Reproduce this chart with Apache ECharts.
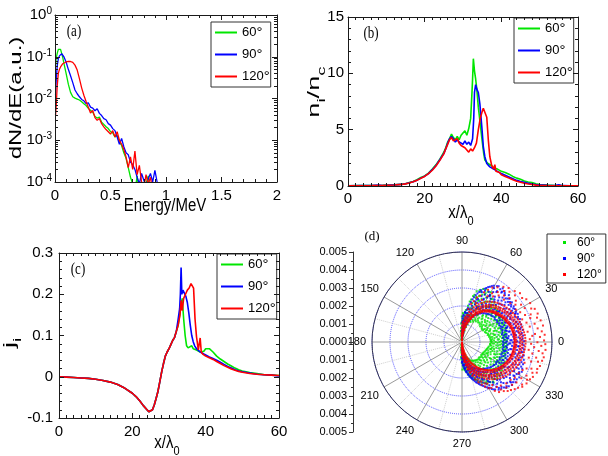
<!DOCTYPE html>
<html><head><meta charset="utf-8">
<script src="https://cdn.jsdelivr.net/npm/echarts@6/dist/echarts.min.js"></script>
<style>html,body{margin:0;padding:0;background:#fff}#c{width:608px;height:456px}</style>
</head><body><div id="c"></div>
<script>
// ---------- data ----------
const seriesNames = ['60°', '90°', '120°'];
// (a) energy spectra
const energyA = [0.005,0.01,0.02,0.03,0.04,0.05,0.06,0.07,0.08,
 0.10,0.12,0.14,0.16,0.18,0.20,0.22,0.24,0.26,0.28,0.30,0.32,0.34,0.36,0.38,0.40,
 0.42,0.44,0.46,0.48,0.50,0.52,0.54,0.56,0.58,0.60,0.62,0.64,0.66,0.68,0.70,
 0.72,0.74,0.76,0.78,0.80,0.82,0.84,0.86,0.88,0.90,0.92,0.94];
const greenA = [0.06,0.09,0.12,0.15,0.16,0.15,0.12,0.095,0.07,
 0.04,0.022,0.014,0.011,0.0102,0.0097,0.0092,0.0084,0.0075,0.0068,0.0058,0.0052,0.0047,0.0037,0.0034,0.0036,
 0.0027,0.0024,0.0021,0.0019,0.0016,0.0015,0.0012,0.0013,0.0009,0.00075,0.0005,0.00037,0.00022,0.00013,0.00009,
 0.00006,0.00014,0.00005,0.00004,0.00006,0.00009,0.00014,0.00006,0.00003,0.00003,0.00003,0.00003];
const blueA = [0.012,0.025,0.06,0.09,0.105,0.115,0.118,0.112,0.1,
 0.075,0.05,0.035,0.024,0.016,0.013,0.011,0.0095,0.0088,0.0075,0.0079,0.0062,0.0059,0.0051,0.0057,0.0044,
 0.0039,0.0033,0.0031,0.0025,0.0023,0.0019,0.0017,0.0012,0.0008,0.0011,0.0007,0.0005,0.00045,0.0003,0.00026,
 0.0002,0.00013,0.00009,0.00016,0.00011,0.00008,0.00012,0.00016,0.0001,0.00019,0.0001,0.00004];
const redA = [0.004,0.006,0.02,0.04,0.05,0.057,0.063,0.068,0.072,
 0.075,0.077,0.077,0.073,0.063,0.048,0.03,0.018,0.012,0.0085,0.0062,0.0045,0.0052,0.0035,0.003,0.0033,
 0.0025,0.0021,0.0018,0.0016,0.0014,0.0017,0.0012,0.0016,0.001,0.0008,0.0006,0.0004,0.00022,0.0004,0.0002,
 0.00055,0.00015,0.00025,0.0001,0.00007,0.00015,0.00009,0.00013,0.00006,0.00003,0.00003,0.00003];

// (b) density n_i/n_c vs x/lambda0, [x, y]
const greenB = [[0,0.02],[3,0.03],[6,0.04],[9,0.06],[12,0.1],[14,0.16],[15,0.2],[16,0.3],[17,0.4],[18,0.55],[19,0.75],[20,0.9],[21,1.15],[22,1.5],[23,1.9],[24,2.4],[25,3.0],[25.5,3.4],[26,3.9],[26.5,4.2],[27,4.6],[27.5,4.3],[28,4.1],[28.5,4.4],[29,4.1],[29.5,4.5],[30,4.6],[30.5,4.9],[31,4.5],[31.5,5.1],[32,6.0],[32.3,8.0],[32.5,9.5],[32.7,11.3],[33,10.2],[33.3,9.5],[33.6,8.6],[34,7.0],[34.5,5.5],[35,4.0],[35.4,2.9],[35.7,2.3],[36,2.4],[36.5,2.0],[37,2.0],[37.5,1.8],[38,1.6],[38.5,1.6],[39,1.5],[39.5,1.5],[40,1.3],[41,1.2],[42,1.05],[43,0.85],[44,0.7],[45,0.6],[46,0.45],[47,0.35],[48,0.3],[49,0.2],[50,0.12],[52,0.08],[54,0.05],[56,0.03],[58,0.02],[60,0.01]];
const blueB = [[0,0.02],[3,0.03],[6,0.03],[8,0.08],[9,0.05],[12,0.1],[14,0.14],[15,0.2],[16,0.28],[17,0.38],[18,0.52],[19,0.7],[20,0.88],[21,1.1],[22,1.45],[23,1.85],[24,2.35],[25,2.9],[25.5,3.3],[26,3.8],[26.5,4.2],[27,4.4],[27.5,4.2],[28,3.9],[28.5,4.1],[29,3.9],[29.5,4.0],[30,3.7],[30.5,4.0],[31,3.7],[31.5,3.9],[32,3.6],[32.5,4.2],[32.8,6.0],[33,8.3],[33.3,9.0],[33.6,8.6],[34,8.3],[34.4,7.3],[34.9,5.3],[35.3,3.5],[35.7,2.6],[36.2,2.0],[36.6,1.9],[37,1.7],[37.5,1.6],[38,1.5],[38.5,1.4],[39,1.3],[40,1.1],[41,0.95],[42,0.8],[43,0.65],[44,0.5],[45,0.4],[46,0.32],[47,0.25],[48,0.18],[49,0.12],[50,0.1],[52,0.07],[54,0.05],[55,0.1],[56,0.03],[58,0.02],[60,0.01]];
const redB = [[0,0.02],[3,0.02],[6,0.03],[9,0.05],[12,0.09],[14,0.14],[15,0.19],[16,0.27],[17,0.37],[18,0.5],[19,0.68],[20,0.85],[21,1.1],[22,1.4],[23,1.8],[24,2.3],[25,2.85],[25.5,3.3],[26,3.7],[26.5,4.1],[27,4.3],[27.5,4.0],[28,3.9],[28.5,4.2],[29,3.8],[29.5,3.6],[30,3.7],[30.5,3.4],[31,3.3],[31.5,3.0],[32,3.3],[32.5,3.1],[33,3.4],[33.5,3.8],[34,5.0],[34.5,6.0],[35,6.6],[35.3,6.9],[35.7,6.8],[36.2,6.1],[36.6,4.1],[37,2.6],[37.5,1.8],[38,1.5],[38.3,1.9],[38.6,1.3],[39,1.3],[39.5,1.2],[40,1.0],[41,0.85],[42,0.7],[43,0.55],[44,0.42],[45,0.33],[46,0.25],[47,0.18],[48,0.13],[49,0.08],[50,0.05],[52,0.03],[54,0.02],[56,0.02],[58,0.01],[60,0.01]];

// (c) current j_i vs x/lambda0, [x, y]
const baseC = [[0,0.0],[2,-0.001],[4,-0.002],[6,-0.003],[8,-0.004],[10,-0.006],[12,-0.009],[14,-0.013],[16,-0.019],[18,-0.028],[20,-0.04],[21,-0.048],[22,-0.058],[23,-0.07],[24,-0.08],[24.5,-0.085],[25,-0.088],[25.5,-0.08],[26,-0.068],[26.5,-0.052],[27,-0.035],[27.5,-0.012],[28,0.012],[28.5,0.032],[29,0.05],[29.5,0.06],[30,0.068],[30.5,0.078],[31,0.088],[31.5,0.095],[32,0.11]];
const greenTailC = [[32.5,0.125],[33,0.155],[33.3,0.175],[33.6,0.19],[34,0.14],[34.4,0.1],[34.8,0.075],[35.2,0.07],[35.7,0.066],[36.2,0.075],[36.6,0.068],[37,0.07],[37.5,0.065],[38,0.062],[38.5,0.06],[39,0.058],[39.5,0.062],[40,0.068],[40.5,0.072],[41,0.068],[42,0.06],[43,0.05],[44,0.043],[45,0.037],[46,0.031],[47,0.026],[48,0.021],[49,0.017],[50,0.014],[52,0.01],[54,0.008],[56,0.005],[58,0.004],[60,0.003]];
const blueTailC = [[32.5,0.14],[32.9,0.165],[33.1,0.2],[33.3,0.265],[33.5,0.2],[33.8,0.21],[34.2,0.208],[34.6,0.195],[35,0.18],[35.4,0.155],[35.8,0.125],[36.2,0.1],[36.6,0.085],[37,0.075],[37.5,0.068],[38,0.065],[38.5,0.06],[39,0.057],[39.5,0.055],[40,0.052],[41,0.048],[42,0.044],[43,0.04],[44,0.035],[45,0.03],[46,0.025],[47,0.021],[48,0.017],[49,0.014],[50,0.012],[52,0.009],[54,0.006],[56,0.005],[58,0.004],[60,0.002]];
const redTailC = [[32.5,0.125],[33,0.15],[33.3,0.185],[33.6,0.16],[34,0.19],[34.5,0.2],[35,0.21],[35.5,0.215],[36,0.226],[36.3,0.23],[36.7,0.215],[37.1,0.14],[37.5,0.097],[38,0.065],[38.5,0.094],[38.8,0.06],[39.2,0.055],[39.6,0.058],[40,0.05],[41,0.046],[42,0.042],[43,0.037],[44,0.032],[45,0.027],[46,0.023],[47,0.019],[48,0.016],[49,0.013],[50,0.011],[52,0.008],[54,0.006],[56,0.005],[58,0.004],[60,0.003]];

// (d) angular distribution: rows [angle(deg), r1, r2, ...] with r in units of 0.001
const R_UNIT = 0.001;
const polarGreen = [
 [97.1,0.13,0.36],[95.4,0.22,0.61],[93.6,0.18,0.47,0.79],[92.2,0.38,0.55,1.04],
 [90.5,0.27,0.33,0.81,1.42],[89.3,0.12,0.64,0.72,1.19],[88.1,0.45,0.98,1.07,1.61],[86.9,0.21,0.29,1.28,1.53],
 [85.6,0.57,0.66,0.91,1.36],[84.4,0.16,0.84,1.47,1.68],[83.1,0.39,1.14,1.22,1.79],[81.8,0.71,0.78,1.58],
 [80.6,0.49,1.31,1.86,2.04],[79.2,0.93,1.01,1.63,2.29],[77.9,0.64,1.48,1.57,2.41],[76.5,1.19,1.84,1.93,2.62],
 [75.2,0.86,1.27,2.24,2.71],[73.8,1.42,1.51,2.08,2.93],[72.4,1.03,1.96,2.55,2.63],[71.1,1.58,2.21,2.34,3.06],
 [69.7,1.24,1.33,2.72,2.98],[68.3,1.87,2.46,2.51,3.17],[67.0,1.21,1.63,2.18,2.86],[65.6,2.03,2.09,2.64,3.22],
 [64.2,1.36,1.78,2.93,3.01],[62.9,1.52,2.37,2.45,3.14],[61.5,1.29,2.12,2.81],[60.1,1.71,1.76,2.58,3.19],
 [58.8,1.44,2.27,2.97,3.04],[57.4,1.92,2.04,2.66],[56.0,1.38,1.57,2.43,2.88],[54.7,1.66,2.31,2.39,2.92],
 [53.3,1.49,2.16,2.74],[51.9,1.82,1.89,2.53,2.61],[50.6,1.41,2.28,2.83],[49.2,1.67,1.74,2.47,2.52],
 [47.8,1.46,2.03,2.36,2.77],[46.5,1.94,2.14,2.63],[45.1,1.39,1.58,2.42,2.69],[43.7,1.76,2.26,2.33],
 [42.4,1.47,1.97,2.58,2.62],[41.0,1.33,1.69,2.19],[39.6,1.83,2.41,2.52],[38.3,1.42,1.53,2.07,2.66],
 [36.9,1.71,2.29,2.36],[35.5,1.35,1.88,2.49,2.54],[34.2,1.57,1.64,2.13],[32.8,1.31,2.21,2.43,2.58],
 [31.4,1.78,1.86,2.47],[30.1,1.43,2.02,2.31,2.39],[28.7,1.34,1.62,2.56],[27.3,1.91,2.17,2.24],
 [26.0,1.48,1.55,2.38,2.61],[24.6,1.73,2.09,2.51],[23.2,1.39,1.97,2.28,2.44],[21.9,1.61,1.68,2.53],
 [20.5,1.44,2.14,2.22,2.59],[19.1,1.86,1.94,2.37],[17.8,1.52,2.03,2.48,2.55],[16.4,1.67,2.27,2.33],
 [15.0,1.49,1.79,2.11,2.52],[13.7,1.58,2.19,2.46],[12.3,1.83,1.89,2.31,2.42],[10.9,1.53,2.07,2.5],
 [9.6,1.62,1.71,2.26,2.37],[8.2,1.94,2.14,2.48],[6.8,1.57,1.82,2.39,2.44],[5.5,1.69,2.23,2.31],
 [4.1,1.61,1.99,2.06,2.52],[2.7,1.78,2.34,2.41],[1.4,1.59,1.66,2.17,2.49],[0.0,1.87,2.08,2.29],
 [-1.4,1.63,1.97,2.38,2.45],[-2.7,1.71,1.79,2.21],[-4.1,1.56,2.12,2.33,2.51],[-5.5,1.91,2.02,2.44],
 [-6.8,1.58,1.64,2.26,2.37],[-8.2,1.77,2.17,2.49],[-9.6,1.51,1.93,2.08,2.42],[-10.9,1.69,2.31,2.36],
 [-12.3,1.48,1.82,2.14,2.55],[-13.7,1.61,1.67,2.27],[-15.0,1.44,2.03,2.41,2.48],[-16.4,1.76,1.88,2.33],
 [-17.8,1.41,1.53,2.19,2.51],[-19.1,1.68,2.07,2.44],[-20.5,1.39,1.91,1.98,2.57],[-21.9,1.57,2.24,2.36],
 [-23.2,1.36,1.73,2.12,2.49],[-24.6,1.49,1.55,2.31,2.62],[-26.0,1.33,1.96,2.04,2.43],[-27.3,1.62,2.18,2.56],
 [-28.7,1.31,1.44,2.27,2.34],[-30.1,1.79,1.86,2.49,2.61],[-31.4,1.34,2.09,2.22],[-32.8,1.52,1.61,2.41,2.67],
 [-34.2,1.29,1.93,2.58],[-35.5,1.71,2.14,2.21,2.73],[-36.9,1.37,1.46,2.36,2.64],[-38.3,1.84,2.03,2.78],
 [-39.6,1.32,1.58,2.47,2.52],[-41.0,1.66,1.73,2.29,2.81],[-42.4,1.28,2.16,2.63,2.69],[-43.7,1.49,1.92,2.41],
 [-45.1,1.36,1.43,2.24,2.76],[-46.5,1.77,2.57,2.84],[-47.8,1.31,1.62,2.08,2.13],[-49.2,1.54,2.38,2.72],
 [-50.6,1.29,1.87,1.94,2.61],[-51.9,1.43,2.21,2.79,2.86],[-53.3,1.27,1.69,2.47],[-54.7,1.58,2.03,2.11,2.74],
 [-56.0,1.24,1.36,2.32,2.67],[-57.4,1.73,1.81,2.54],[-58.8,1.22,2.12,2.61,2.71],[-60.1,1.46,1.52,2.27],
 [-61.5,1.19,1.89,2.43,2.58],[-62.9,1.38,2.06,2.13],[-64.2,1.14,1.62,2.36,2.51],[-65.6,1.27,1.33,1.98],
 [-67.0,1.07,1.79,2.21,2.44],[-68.3,1.21,1.54,1.61,2.33],[-69.7,0.98,1.86,2.24],[-71.1,1.12,1.37,1.44,2.11],
 [-72.4,0.89,1.66,1.99,2.19],[-73.8,1.02,1.23,1.29,1.93],[-75.2,0.76,1.51,1.84,2.06],[-76.5,0.93,1.09,1.71],
 [-77.9,0.67,1.35,1.42,1.94],[-79.2,0.81,0.96,1.58,1.83],[-80.6,0.52,1.17,1.26,1.72],[-81.8,0.71,0.83,1.49],
 [-83.1,0.41,1.02,1.09,1.63],[-84.4,0.58,0.67,1.34,1.56],[-85.6,0.29,0.88,0.94,1.48],[-86.9,0.47,0.53,1.21,1.41],
 [-88.1,0.19,0.74,0.79,1.31],[-89.3,0.36,0.42,1.06,1.53],[-90.5,0.24,0.61,0.67,1.17],[-92.2,0.31,0.49,0.96],
 [-93.6,0.17,0.58,0.83],[-95.4,0.21,0.44],[-97.1,0.14,0.32]];
const polarBlue = [
 [91.8,0.27,0.63],[90.5,0.44,0.51,1.09],[89.2,0.21,0.86,1.31],[87.9,0.58,0.69,1.17,1.42],[86.6,0.33,1.03,1.51],
 [85.3,0.74,0.81,1.26],[84.0,0.41,1.19,1.62,1.68],[82.7,0.92,1.04,1.44],[81.4,0.57,1.37,1.81],[80.1,1.12,1.21,1.64,1.92],
 [78.8,0.81,1.52,2.13],[77.5,1.34,1.41,1.86,2.27],[76.2,0.98,1.73,2.44],[74.9,1.49,1.58,2.09,2.58],[73.6,1.16,1.94,2.71],
 [72.3,1.68,1.77,2.36,2.83],[71.0,1.31,2.21,2.49,2.94],[69.7,1.88,2.56,3.07],[68.4,1.46,1.53,2.34,2.98],[67.1,2.02,2.11,2.77,3.21],
 [65.8,1.59,2.46,3.12,3.29],[64.5,1.81,2.19,2.92,3.38],[63.2,1.69,2.63,2.69,3.44],[61.9,2.06,2.37,3.16,3.52],
 [60.6,1.77,2.28,2.84,3.59],[59.3,2.22,2.97,3.04,3.48],[58.0,1.86,2.51,3.27,3.66],[56.7,2.14,2.38,2.89,3.71],
 [55.4,1.94,2.74,3.37,3.43],[54.1,2.31,2.59,3.11,3.62],[52.8,2.01,2.47,2.96,3.74],[51.5,2.43,2.87,3.51,3.57],
 [50.2,2.07,2.68,3.23,3.69],[48.9,2.26,2.33,3.06,3.61],[47.6,2.11,2.79,3.34,3.53],[46.3,2.49,2.94,3.18],
 [45.0,2.16,2.58,3.42,3.68],[43.7,2.36,2.43,3.02,3.49],[42.4,2.19,2.83,3.27,3.56],[41.1,2.58,3.13,3.39],
 [39.8,2.23,2.66,2.71,3.47],[38.5,2.41,2.97,3.31,3.54],[37.2,2.26,2.51,3.08,3.43],[35.9,2.69,2.76,3.36],
 [34.6,2.22,2.88,3.21,3.49],[33.3,2.47,2.55,3.03,3.41],[32.0,2.29,2.79,3.28,3.46],[30.7,2.63,3.09,3.16],
 [29.4,2.24,2.43,2.91,3.44],[28.1,2.54,2.82,3.33,3.38],[26.8,2.31,2.71,3.02,3.47],[25.5,2.46,2.96,3.26],
 [24.2,2.27,2.61,2.67,3.41],[22.9,2.74,3.11,3.35],[21.6,2.33,2.52,2.89,3.46],[20.3,2.41,2.86,3.19,3.24],
 [19.0,2.28,2.68,3.04,3.39],[17.7,2.57,2.63,3.29],[16.4,2.35,2.79,3.13,3.43],[15.1,2.49,2.98,3.06],
 [13.8,2.31,2.56,3.21,3.37],[12.5,2.66,2.72,3.31],[11.2,2.26,2.88,3.09,3.44],[9.9,2.43,2.51,3.18],
 [8.6,2.34,2.77,2.94,3.36],[7.3,2.61,3.03,3.27],[6.0,2.29,2.47,2.86,3.41],[4.7,2.53,2.58,3.14],
 [3.4,2.36,2.91,3.23,3.38],[2.1,2.69,2.76,3.32],[0.8,2.27,2.49,3.07,3.45],[-0.5,2.42,2.84,3.19],
 [-1.8,2.31,2.63,2.69,3.36],[-3.1,2.55,3.01,3.44],[-4.4,2.28,2.79,3.12,3.17],[-5.7,2.46,2.93,3.39],
 [-7.0,2.33,2.52,3.26,3.47],[-8.3,2.71,2.78,3.09],[-9.6,2.29,2.61,3.34,3.41],[-10.9,2.48,2.89,3.22],
 [-12.2,2.37,2.44,3.04,3.51],[-13.5,2.62,3.16,3.45],[-14.8,2.32,2.77,2.83,3.36],[-16.1,2.51,3.08,3.57],
 [-17.4,2.28,2.66,3.27,3.31],[-18.7,2.43,2.94,3.49],[-20.0,2.34,2.58,3.14,3.61],[-21.3,2.69,2.74,3.42],
 [-22.6,2.27,2.87,3.23,3.56],[-23.9,2.45,2.52,3.07,3.66],[-25.2,2.31,2.79,3.36,3.48],[-26.5,2.62,3.18,3.71],
 [-27.8,2.24,2.48,2.96,3.59],[-29.1,2.38,2.91,3.31,3.64],[-30.4,2.21,2.67,2.73,3.52],[-31.7,2.56,3.12,3.74],
 [-33.0,2.26,2.83,3.41,3.47],[-34.3,2.43,2.61,3.22,3.68],[-35.6,2.19,2.97,3.56],[-36.9,2.51,2.57,3.33,3.72],
 [-38.2,2.17,2.76,3.14,3.61],[-39.5,2.34,2.92,3.46,3.53],[-40.8,2.12,2.59,3.07,3.66],[-42.1,2.41,2.81,3.38],
 [-43.4,2.08,2.47,2.53,3.58],[-44.7,2.27,2.96,3.24,3.49],[-46.0,2.02,2.64,3.11,3.54],[-47.3,2.36,2.42,2.88,3.44],
 [-48.6,1.97,2.73,3.32],[-49.9,2.18,2.56,3.03,3.39],[-51.2,1.93,2.37,2.44,3.27],[-52.5,2.11,2.82,3.13,3.34],
 [-53.8,1.87,2.49,2.93],[-55.1,2.03,2.27,2.71,3.22],[-56.4,1.82,2.58,2.63,3.16],[-57.7,1.96,2.19,2.84,3.09],
 [-59.0,1.76,2.42,2.97],[-60.3,1.89,2.07,2.66,2.94],[-61.6,1.68,2.31,2.37,2.86],[-62.9,1.81,1.98,2.53,2.79],
 [-64.2,1.61,2.22,2.71],[-65.5,1.72,1.89,2.42,2.64],[-66.8,1.52,2.07,2.13,2.58],[-68.1,1.64,1.77,2.31,2.51],
 [-69.4,1.41,1.96,2.43],[-70.7,1.53,1.68,2.19,2.37],[-72.0,1.31,1.84,1.91,2.29],[-73.3,1.42,1.57,2.06,2.21],
 [-74.6,1.18,1.71,2.13],[-75.9,1.29,1.44,1.93,2.04],[-77.2,1.04,1.58,1.63,1.98],[-78.5,1.16,1.31,1.79,1.88],
 [-79.8,0.89,1.42,1.83],[-81.1,1.02,1.17,1.63,1.71],[-82.4,0.73,1.27,1.31,1.67],[-83.7,0.86,1.01,1.46,1.54],
 [-85.0,0.57,1.09,1.47],[-86.3,0.69,0.83,1.27,1.36],[-87.6,0.41,0.91,0.97,1.29],[-88.9,0.52,0.66,1.08,1.18],
 [-90.2,0.28,0.73,1.11],[-91.5,0.36,0.47,0.89]];
const polarRed = [
 [92.1,0.12,0.47],[90.8,0.26,0.33,0.71],[89.5,0.09,0.58,0.92],[88.2,0.31,0.39,0.84,1.07],[86.9,0.19,0.62,1.13],
 [85.6,0.44,0.53,0.96],[84.3,0.36,0.79,1.21],[83.0,0.61,0.68,1.05,1.34],[81.7,0.51,0.93,1.42],[80.4,0.77,0.84,1.23],
 [79.1,0.69,1.11,1.53,1.86],[77.8,0.94,1.02,1.38],[76.5,0.87,1.29,1.71,2.18],[75.2,1.12,1.19,1.54],[73.9,1.06,1.46,1.88,2.36],
 [72.6,1.28,1.34,1.67],[71.3,1.21,1.62,2.04,2.61],[70.0,1.43,1.49,1.83,2.29],[68.7,1.37,1.76,2.16,2.77],[67.4,1.56,1.63,1.97],
 [66.1,1.52,1.89,2.29,3.02],[64.8,1.71,1.78,2.11,2.58],[63.5,1.66,2.03,2.42,3.24],[62.2,1.83,1.91,2.23],[60.9,1.79,2.14,2.52,2.91,3.46],
 [59.6,1.94,2.02,2.34],[58.3,1.91,2.26,2.63,3.18],[57.0,2.03,2.11,2.44,3.62],[55.7,2.01,2.36,2.71,3.07],[54.4,2.12,2.19,2.53,3.41],
 [53.1,2.11,2.44,2.79,3.83],[51.8,2.21,2.27,2.61,3.29],[50.5,2.18,2.53,2.86,3.67],[49.2,2.27,2.34,2.69,3.96],[47.9,2.26,2.59,2.93,3.48],
 [46.6,2.32,2.41,2.74,3.84],[45.3,2.33,2.65,2.99,3.31],[44.0,2.39,2.46,2.81,4.07],[42.7,2.39,2.71,3.04,3.59],[41.4,2.44,2.52,2.86,3.92],
 [40.1,2.44,2.77,3.08,4.21],[38.8,2.48,2.57,2.91,3.44],[37.5,2.49,2.82,3.13,3.77],[36.2,2.54,2.61,2.96,4.14],[34.9,2.55,2.87,3.17,3.62],
 [33.6,2.61,2.68,3.01,4.29],[32.3,2.61,2.92,3.21,3.88],[31.0,2.65,2.73,3.06,3.49],[29.7,2.66,2.96,3.25,4.36],[28.4,2.69,2.78,3.11,3.96],
 [27.1,2.7,3.01,3.29,3.63],[25.8,2.71,2.81,3.14,4.27],[24.5,2.72,3.03,3.32,4.44],[23.2,2.75,2.84,3.18,3.81],[21.9,2.76,3.07,3.36,4.11],
 [20.6,2.79,2.88,3.21,3.57,4.49],[19.3,2.8,3.11,3.39,4.02],[18.0,2.83,2.91,3.24,4.38],[16.7,2.84,3.14,3.42,3.74],[15.4,2.85,2.94,3.27,4.53],
 [14.1,2.86,3.17,3.45,4.16],[12.8,2.87,2.96,3.29,3.86],[11.5,2.88,3.19,3.47,4.59],[10.2,2.89,2.98,3.31,4.27],[8.9,2.9,3.21,3.49,3.69],
 [7.6,2.9,2.99,3.33,4.47],[6.3,2.91,3.22,3.51,4.08],[5.0,2.91,3.01,3.34,3.92,4.61],[3.7,2.92,3.23,3.52,4.34],[2.4,2.92,3.02,3.35,3.77],
 [1.1,2.93,3.24,3.53,4.56],[-0.2,2.93,3.03,3.36,4.19],[-1.5,2.92,3.24,3.53,3.84,4.63],[-2.8,2.92,3.02,3.35,4.41],[-4.1,2.91,3.23,3.52,4.02],
 [-5.4,2.91,3.01,3.34,4.66],[-6.7,2.9,3.22,3.51,3.73,4.29],[-8.0,2.9,2.99,3.33,4.52],[-9.3,2.89,3.21,3.49,3.96],[-10.6,2.88,2.98,3.31,4.62],
 [-11.9,2.87,3.19,3.47,4.21],[-13.2,2.86,2.96,3.29,3.81,4.57],[-14.5,2.85,3.17,3.45,4.36],[-15.8,2.84,2.94,3.27,3.99],[-17.1,2.83,3.14,3.42,4.53],
 [-18.4,2.81,2.91,3.24,3.66],[-19.7,2.79,3.11,3.39,4.44],[-21.0,2.77,2.88,3.21,4.13],[-22.3,2.75,3.07,3.36,3.88,4.49],[-23.6,2.73,2.84,3.17,4.27],
 [-24.9,2.71,3.03,3.32,3.71],[-26.2,2.69,2.8,3.13,4.39],[-27.5,2.67,2.98,3.28,4.04],[-28.8,2.64,2.76,3.09,3.59,4.31],[-30.1,2.62,2.93,3.23,4.18],
 [-31.4,2.59,2.71,3.04,3.86],[-32.7,2.56,2.88,3.18,4.26],[-34.0,2.53,2.65,2.98,3.54],[-35.3,2.5,2.82,3.12,4.09],[-36.6,2.47,2.59,2.92,3.77,4.17],
 [-37.9,2.43,2.76,3.06,3.42],[-39.2,2.4,2.53,2.86,4.02],[-40.5,2.36,2.69,2.99,3.66],[-41.8,2.32,2.46,2.79,3.93],[-43.1,2.28,2.62,2.92,3.37],
 [-44.4,2.24,2.38,2.71,3.81],[-45.7,2.19,2.54,2.84,3.53],[-47.0,2.15,2.3,2.63,3.72],[-48.3,2.1,2.46,2.76,3.24],[-49.6,2.05,2.21,2.54,3.58],
 [-50.9,2.0,2.37,2.67,3.41],[-52.2,1.95,2.12,2.45,3.16],[-53.5,1.89,2.27,2.57,3.46],[-54.8,1.84,2.02,2.35,2.92],[-56.1,1.78,2.17,2.47,3.27],
 [-57.4,1.72,1.91,2.24,3.03],[-58.7,1.66,2.06,2.36,2.71],[-60.0,1.6,1.8,2.13,2.96],[-61.3,1.53,1.94,2.24,2.62],[-62.6,1.46,1.68,2.01,2.79],
 [-63.9,1.39,1.82,2.12,2.44],[-65.2,1.32,1.55,1.88,2.61],[-66.5,1.25,1.69,1.99,2.27],[-67.8,1.17,1.42,1.75,2.42],[-69.1,1.1,1.56,1.86,2.08],
 [-70.4,1.02,1.28,1.61,2.21],[-71.7,0.94,1.42,1.72,1.91],[-73.0,0.86,1.14,1.47,1.97],[-74.3,0.78,1.27,1.57,1.74],[-75.6,0.7,0.99,1.32,1.76],
 [-76.9,0.62,1.12,1.42,1.57],[-78.2,0.54,0.84,1.17,1.53],[-79.5,0.46,0.97,1.27],[-80.8,0.38,0.69,1.02,1.31],[-82.1,0.31,0.82,1.12],
 [-83.4,0.24,0.54,0.87,1.08],[-84.7,0.17,0.67,0.96],[-86.0,0.11,0.39,0.72,0.87],[-87.3,0.07,0.52,0.81],[-88.6,0.14,0.24,0.57],
 [-89.9,0.05,0.37,0.66],[-91.2,0.09,0.19,0.48],[-92.5,0.12,0.33]];

// ---------- styling ----------
const FONT = 'Liberation Sans, Arial, Helvetica, sans-serif';
const SERIF = 'Liberation Serif, Times New Roman, serif';
const COLORS = ['#00e600', '#0000ff', '#ff0000'];
const AX = '#1a1a1a';

const pairs = (xs, ys) => xs.map((x, i) => [x, ys[i]]);
const expandPolar = rows => rows.flatMap(([a, ...rs]) => rs.map(r => [r * R_UNIT, (a + 360) % 360]));

function frameAxis(o) {
  return {
    type: o.type || 'value', gridIndex: o.grid, position: o.position,
    min: o.min, max: o.max, interval: o.interval, logBase: o.logBase,
    axisLine: { show: o.line !== false, onZero: false, lineStyle: { color: AX, width: 1 } },
    axisTick: Object.assign({ show: true, inside: true, length: o.tickLen || 5, lineStyle: { color: AX } },
      o.custom ? { customValues: o.custom } : {}),
    minorTick: { show: !!o.minor, splitNumber: o.minor || 5, length: 3, lineStyle: { color: AX } },
    splitLine: { show: false },
    axisLabel: o.label ? Object.assign({ show: true, color: '#000', fontSize: 15, fontFamily: FONT, margin: o.margin || 5 }, o.label) : { show: false },
    z: 5
  };
}
const logMinorTicks = [];
for (let e = -4; e < 0; e++) for (let k = 2; k <= 9; k++) logMinorTicks.push(Math.log10(k) + e);

const degFmt = n => n.replace('°', '{s|°}');
function legendAt(left, top, extra) {
  return Object.assign({
    data: seriesNames, left, top, orient: 'vertical', icon: 'rect',
    itemWidth: 22, itemHeight: 2, itemGap: 5, padding: [2, 1, 2, 4],
    borderColor: '#333', borderWidth: 1, backgroundColor: '#fff', borderRadius: 0,
    selectedMode: false, formatter: degFmt,
    textStyle: { fontSize: 13, fontFamily: FONT, color: '#000', lineHeight: 17,
      rich: { s: { fontSize: 15, fontFamily: FONT, color: '#000', lineHeight: 17 } } }
  }, extra || {});
}

const series = [];
[greenA, blueA, redA].forEach((v, i) => series.push({
  name: seriesNames[i], type: 'line', xAxisIndex: 0, yAxisIndex: 0, data: pairs(energyA, v),
  symbol: 'none', color: COLORS[i], lineStyle: { width: 1.3, color: COLORS[i] }, clip: true, z: 2 + i
}));
[greenB, blueB, redB].forEach((v, i) => series.push({
  name: seriesNames[i], type: 'line', xAxisIndex: 2, yAxisIndex: 4, data: v,
  symbol: 'none', color: COLORS[i], lineStyle: { width: 1.6, color: COLORS[i] }, clip: true, z: 2 + i
}));
[greenTailC, blueTailC, redTailC].forEach((v, i) => series.push({
  name: seriesNames[i], type: 'line', xAxisIndex: 4, yAxisIndex: 6, data: baseC.concat(v),
  symbol: 'none', color: COLORS[i], lineStyle: { width: 1.6, color: COLORS[i] }, clip: true, z: 2 + i
}));
[polarGreen, polarBlue, polarRed].forEach((rows, i) => series.push({
  name: seriesNames[i], type: 'scatter', coordinateSystem: 'polar', polarIndex: 0,
  data: expandPolar(rows), symbol: 'rect', symbolSize: 2, color: COLORS[i],
  itemStyle: { color: COLORS[i] }, silent: true, z: 3 + i
}));

const rich = (main, sub) => ({
  m: { fontSize: main, fontFamily: FONT, color: '#000', padding: [0, 0, 5, 0], verticalAlign: 'top' },
  b: { fontSize: sub, fontFamily: FONT, color: '#000', verticalAlign: 'bottom' }
});
function label(text, x, y, o) {
  return { type: 'text', x, y, rotation: o.rot || 0, scaleX: o.sx || 1, scaleY: o.sy || 1, z: 10,
    style: { text, fontSize: o.size || 15, fontFamily: o.font || FONT, fill: '#000',
      align: 'center', verticalAlign: 'middle', rich: o.rich } };
}

const option = {
  animation: false,
  backgroundColor: '#fff',
  grid: [
    { left: 55, top: 15, width: 222, height: 167 },
    { left: 348, top: 17, width: 230, height: 169 },
    { left: 59, top: 253, width: 220, height: 165 },
    { left: 353, top: 252, width: 10, height: 180 }
  ],
  xAxis: [
    frameAxis({ grid: 0, position: 'bottom', min: 0, max: 2, interval: 0.5, minor: 5, label: {}, margin: 6 }),
    frameAxis({ grid: 0, position: 'top', min: 0, max: 2, interval: 0.5, minor: 5 }),
    frameAxis({ grid: 1, position: 'bottom', min: 0, max: 60, interval: 20, minor: 10, label: {}, margin: 5 }),
    frameAxis({ grid: 1, position: 'top', min: 0, max: 60, interval: 20, minor: 10 }),
    frameAxis({ grid: 2, position: 'bottom', min: 0, max: 60, interval: 20, minor: 10, label: {}, margin: 6 }),
    frameAxis({ grid: 2, position: 'top', min: 0, max: 60, interval: 20, minor: 10 }),
    { type: 'value', gridIndex: 3, show: false, min: 0, max: 1 }
  ],
  yAxis: [
    frameAxis({ grid: 0, type: 'log', logBase: 10, position: 'left', min: 1e-4, max: 1, margin: 3,
      label: { formatter: v => '10{s|' + Math.round(Math.log10(v)) + '}',
        rich: { s: { fontSize: 10, fontFamily: FONT, color: '#000', verticalAlign: 'top', padding: [0, 0, 8, 0] } } } }),
    frameAxis({ grid: 0, position: 'left', min: -4, max: 0, line: false, tickLen: 3, custom: logMinorTicks }),
    frameAxis({ grid: 0, type: 'log', logBase: 10, position: 'right', min: 1e-4, max: 1 }),
    frameAxis({ grid: 0, position: 'right', min: -4, max: 0, line: false, tickLen: 3, custom: logMinorTicks }),
    frameAxis({ grid: 1, position: 'left', min: 0, max: 15, interval: 5, minor: 5, label: {}, margin: 4 }),
    frameAxis({ grid: 1, position: 'right', min: 0, max: 15, interval: 5, minor: 5 }),
    frameAxis({ grid: 2, position: 'left', min: -0.1, max: 0.3, interval: 0.1, minor: 5, label: {}, margin: 6 }),
    frameAxis({ grid: 2, position: 'right', min: -0.1, max: 0.3, interval: 0.1, minor: 5 }),
    {
      type: 'value', gridIndex: 3, position: 'left', min: -0.005, max: 0.005, interval: 0.001,
      axisLine: { show: true, lineStyle: { color: '#333', width: 1 } },
      axisTick: { show: true, inside: false, length: 4, lineStyle: { color: '#333' } },
      minorTick: { show: true, splitNumber: 2, length: 2, lineStyle: { color: '#333' } },
      splitLine: { show: false },
      axisLabel: { show: true, margin: 6, fontSize: 11, fontFamily: FONT, color: '#000',
        formatter: v => Math.abs(v).toFixed(3) }
    }
  ],
  polar: { center: [462, 342], radius: 90 },
  angleAxis: {
    type: 'value', min: 0, max: 360, interval: 30, startAngle: 0, clockwise: false,
    axisLine: { show: true, lineStyle: { color: '#33334d', width: 1 } },
    axisTick: { show: false },
    axisLabel: { show: true, fontSize: 11, fontFamily: FONT, color: '#000', margin: 6,
      formatter: v => (v === 360 ? '' : String(v)) },
    splitLine: { show: true, lineStyle: { color: '#9a9a9a', width: 1 } },
    minorTick: { show: false, splitNumber: 2 },
    minorSplitLine: { show: true, lineStyle: { color: '#cfcfcf', type: 'dotted', width: 1 } }
  },
  radiusAxis: {
    type: 'value', min: 0, max: 0.005, interval: 0.001,
    axisLine: { show: false }, axisTick: { show: false }, axisLabel: { show: false },
    splitLine: { show: true, lineStyle: { color: '#5050ff', type: 'dotted', width: 1 } }
  },
  legend: [
    legendAt(211, 22),
    legendAt(514, 18),
    legendAt(217, 254),
    legendAt(547, 234, { icon: 'rect', itemWidth: 3, itemHeight: 3, itemGap: 3, padding: [2, 4, 2, 16],
      formatter: n => n,
      textStyle: { fontSize: 12, fontFamily: FONT, color: '#000', lineHeight: 13, padding: [0, 0, 0, 6] } })
  ],
  graphic: [
    label('(a)', 74, 32, { font: SERIF, size: 13, sy: 1.25 }),
    label('(b)', 371, 34, { font: SERIF, size: 13, sy: 1.25 }),
    label('(c)', 78, 270, { font: SERIF, size: 13, sy: 1.25 }),
    label('(d)', 372, 237, { font: SERIF, size: 13 }),
    label('Energy/MeV', 165, 206, { size: 15, sy: 1.2 }),
    label('dN/dE(a.u.)', 17, 98, { size: 16, sx: 1.5, rot: Math.PI / 2 }),
    label('{m|x/λ}{b|0}', 461, 216, { rich: rich(15, 11), sy: 1.2 }),
    label('{m|n}{b|i}{m|/n}{b|c}', 317, 92, { rich: rich(16, 11), sx: 1.7, rot: Math.PI / 2 }),
    label('{m|x/λ}{b|0}', 167, 446, { rich: rich(15, 11), sy: 1.2 }),
    label('{m|j}{b|i}', 13, 343, { rich: rich(16, 11), sx: 1.7, rot: Math.PI / 2 })
  ],
  series
};
const chart = echarts.init(document.getElementById('c'), null, { renderer: 'canvas' });
chart.setOption(option);
</script></body></html>
